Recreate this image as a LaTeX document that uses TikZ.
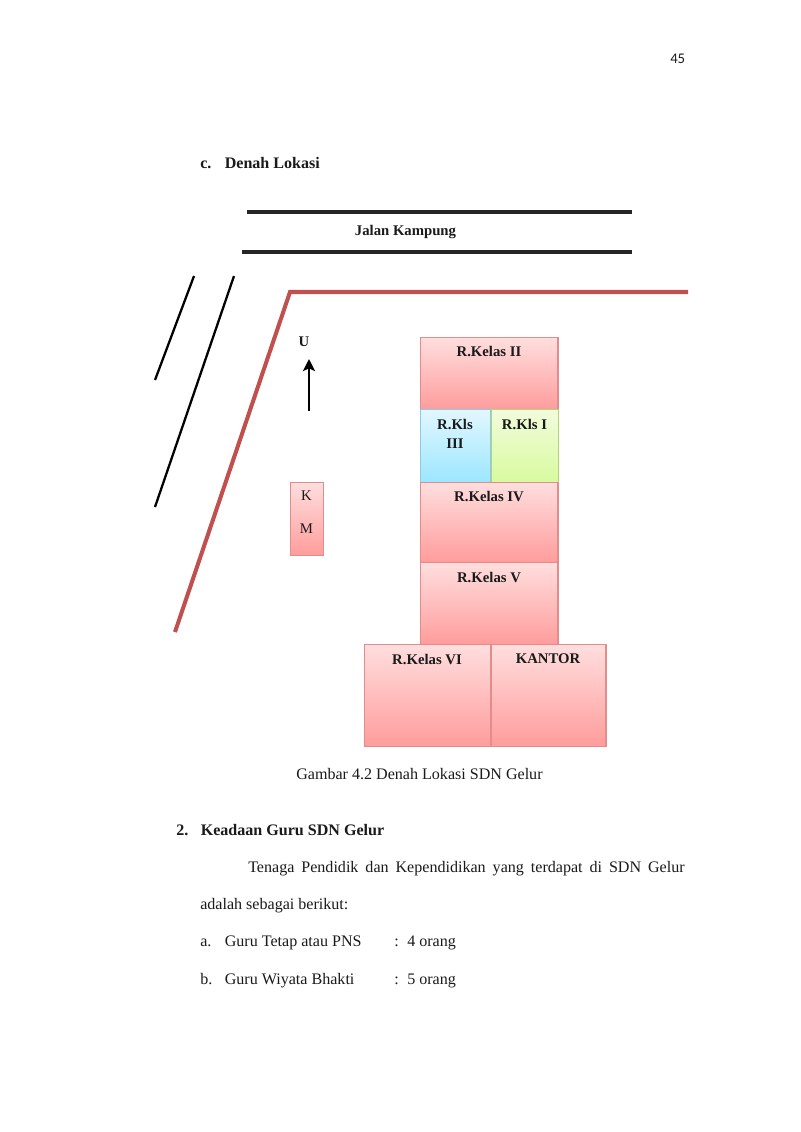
\documentclass[tikz,border=0pt]{standalone}
\usepackage{fontspec}
\setmainfont{Liberation Serif}
\newfontfamily\pagefont{Carlito}
\usetikzlibrary{positioning,calc,arrows.meta}

\definecolor{roomred}{HTML}{FF9C9C}
\definecolor{roomredtop}{HTML}{FFDEDE}
\definecolor{edgered}{HTML}{E28C8C}
\definecolor{roomblue}{HTML}{9CE6FF}
\definecolor{roombluetop}{HTML}{E2F7FF}
\definecolor{edgeblue}{HTML}{8CCBE2}
\definecolor{roomgreen}{HTML}{D8FA9E}
\definecolor{roomgreentop}{HTML}{F1FCDC}
\definecolor{edgegreen}{HTML}{B4D47A}
\definecolor{roadred}{HTML}{C0504D}
\definecolor{inkblack}{HTML}{1A1A1A}

\tikzset{
  room/.style={rectangle, anchor=north west, inner sep=0pt, line width=1.1pt, draw=edgered,
    top color=roomredtop, bottom color=roomred},
  bluebox/.style={room, draw=edgeblue, top color=roombluetop, bottom color=roomblue},
  greenbox/.style={room, draw=edgegreen, top color=roomgreentop, bottom color=roomgreen},
  roomtext/.style={font=\bfseries\fontsize{11}{14}\selectfont, text=inkblack, inner sep=0pt, align=center},
  pagetext/.style={font=\fontsize{12}{14}\selectfont, text=inkblack, inner sep=0pt, anchor=base west},
  boldtext/.style={pagetext, font=\bfseries\fontsize{12}{14}\selectfont},
  street/.style={line width=2.6pt, black!85},
  ditch/.style={line width=1.7pt, black},
  road/.style={line width=3pt, roadred, line join=miter}
}

\begin{document}
\begin{tikzpicture}[x=0.02625cm,y=-0.02625cm]
    \useasboundingbox (0,0) rectangle (800,1132);

    % page number and heading
    \node[pagetext, font=\pagefont\fontsize{11}{14}\selectfont] (pagenum) at (670,63) {45};
    \node[boldtext] (denah) at (200,168) {c.};
    \node[boldtext] (denahtitle) at (224.5,168) {Denah Lokasi};

    % Jalan
    \coordinate (jalanAa) at (247,212);
    \coordinate (jalanAb) at (632,212);
    \coordinate (jalanBa) at (242,252);
    \coordinate (jalanBb) at (632,252);
    \draw[street] (jalanAa) -- (jalanAb);
    \draw[street] (jalanBa) -- (jalanBb);
    \node[roomtext] (jalan) at (405.5,232) {Jalan Kampung};

    % Diagonal lines
    \coordinate (ditchAa) at (155,380);
    \coordinate (ditchAb) at (194,276);
    \coordinate (ditchBa) at (155,507);
    \coordinate (ditchBb) at (234,276);
    \draw[ditch] (ditchAa) -- (ditchAb);
    \draw[ditch] (ditchBa) -- (ditchBb);

    % Fence
    \coordinate (fenceA) at (175,632);
    \coordinate (fenceB) at (290,292);
    \coordinate (fenceC) at (688,292);
    \draw[road] (fenceA) -- (fenceB) -- (fenceC);

    % North arrow
    \node[roomtext] (north) at (304,342) {U};
    \coordinate (arrowA) at (309,411);
    \coordinate (arrowB) at (309,359);
    \draw[-{Stealth[length=9pt,width=9pt,inset=2pt]}, line width=2pt, black] (arrowA) -- (arrowB);

    % Rooms
    \node[room, minimum width=138*0.744pt, minimum height=72*0.744pt] (kelasII) at (420,337) {};
    \node[bluebox, minimum width=70*0.744pt, minimum height=73*0.744pt] (kelasIII) at (420,409) {};
    \node[greenbox, minimum width=67.5*0.744pt, minimum height=74*0.744pt] (kelasI) at (490.5,409) {};
    \node[room, minimum width=138*0.744pt, minimum height=80*0.744pt] (kelasIV) at (420,482) {};
    \node[room, minimum width=138*0.744pt, minimum height=82*0.744pt] (kelasV) at (420,562) {};
    \node[room, minimum width=126.5*0.744pt, minimum height=102*0.744pt] (kelasVI) at (364,644) {};
    \node[room, minimum width=115*0.744pt, minimum height=102*0.744pt] (kantor) at (490.5,644) {};
    \node[room, minimum width=33*0.744pt, minimum height=73*0.744pt] (km) at (290,482) {};

    % Room labels
    \node[roomtext] (labelII) at (489,351) {R.Kelas II};
    \node[roomtext] (labelIIIa) at (455,424) {R.Kls};
    \node[roomtext] (labelIIIb) at (455,444) {III};
    \node[roomtext] (labelI) at (524.5,424) {R.Kls I};
    \node[roomtext] (labelIV) at (489,496) {R.Kelas IV};
    \node[roomtext] (labelV) at (489,577) {R.Kelas V};
    \node[roomtext] (labelVI) at (427,659) {R.Kelas VI};
    \node[roomtext] (labelkantor) at (548,659) {KANTOR};
    \node[roomtext, font=\fontsize{11}{14}\selectfont] (labelK) at (306.5,496) {K};
    \node[roomtext, font=\fontsize{11}{14}\selectfont] (labelM) at (306.5,529) {M};

    % Text below the plan
    \node[pagetext] (caption) at (296,779) {Gambar 4.2 Denah Lokasi SDN Gelur};
    \node[boldtext] (numtwo) at (176,835) {2.};
    \node[boldtext] (guru) at (200.5,835) {Keadaan Guru SDN Gelur};
    \node[pagetext] (paraA) at (248,872) {\makebox[325.9pt][s]{Tenaga Pendidik dan Kependidikan yang terdapat di SDN Gelur}};
    \node[pagetext] (paraB) at (200,909) {adalah sebagai berikut:};
    \node[pagetext] (itemA) at (200,946) {a.};
    \node[pagetext] (itemAtext) at (224.5,946) {Guru Tetap atau PNS};
    \node[pagetext] (itemAcolon) at (394,946) {:};
    \node[pagetext] (itemAnum) at (407,946) {4 orang};
    \node[pagetext] (itemB) at (200,984) {b.};
    \node[pagetext] (itemBtext) at (224.5,984) {Guru Wiyata Bhakti};
    \node[pagetext] (itemBcolon) at (394,984) {:};
    \node[pagetext] (itemBnum) at (407,984) {5 orang};
\end{tikzpicture}
\end{document}
